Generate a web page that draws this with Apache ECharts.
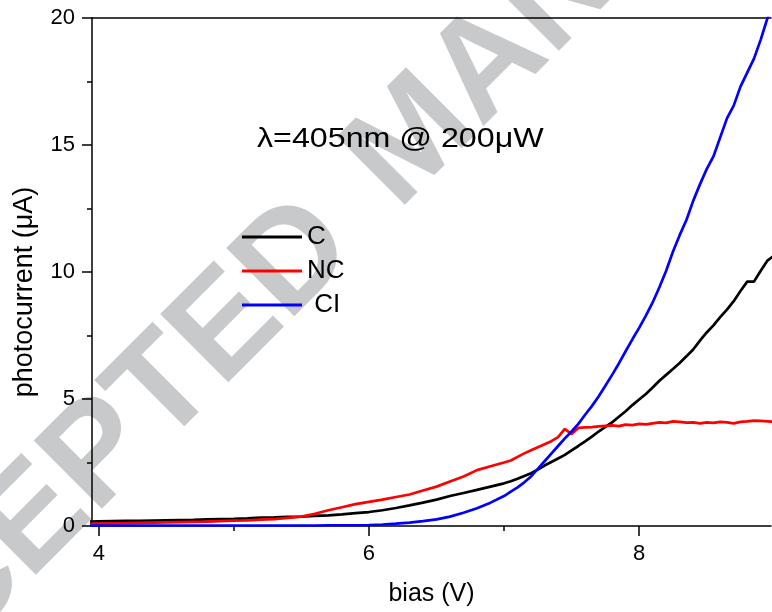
<!DOCTYPE html>
<html>
<head>
<meta charset="utf-8">
<script src="https://cdn.jsdelivr.net/npm/echarts@6/dist/echarts.min.js"></script>
<style>html,body{margin:0;padding:0;background:#fff}#c{width:772px;height:612px}</style>
</head>
<body>
<div id="c"></div>
<script>
// ---- data ----
const bias = [3.9,4.0,4.1,4.2,4.3,4.4,4.5,4.6,4.7,4.8,4.9,5.0,5.1,5.2,5.3,5.4,5.5,5.6,5.7,5.8,5.9,6.0,6.1,6.2,6.3,6.4,6.5,6.6,6.7,6.8,6.9,7.0,
  7.05,7.1,7.15,7.2,7.25,7.3,7.35,7.4,7.45,7.5,7.55,7.6,7.65,7.7,7.75,7.8,7.85,7.9,7.95,8.0,
  8.05,8.1,8.15,8.2,8.25,8.3,8.35,8.4,8.45,8.5,8.55,8.6,8.65,8.7,8.75,8.8,8.85,8.9,8.95,9.0];
const currentC = [0.17,0.18,0.19,0.20,0.20,0.21,0.22,0.23,0.24,0.26,0.27,0.28,0.30,0.33,0.34,0.36,0.37,0.40,0.42,0.46,0.51,0.55,0.62,0.71,0.81,0.92,1.04,1.18,1.30,1.42,1.55,1.68,
  1.76,1.86,1.97,2.08,2.22,2.38,2.52,2.66,2.80,2.98,3.15,3.33,3.52,3.72,3.90,4.08,4.30,4.52,4.76,4.98,
  5.20,5.45,5.72,5.95,6.18,6.42,6.68,6.95,7.30,7.62,7.90,8.22,8.52,8.85,9.25,9.62,9.62,10.05,10.45,10.65];
const currentNC = [0.08,0.09,0.10,0.11,0.12,0.13,0.14,0.15,0.16,0.17,0.19,0.21,0.22,0.25,0.27,0.32,0.37,0.48,0.62,0.74,0.86,0.95,1.04,1.14,1.24,1.40,1.55,1.75,1.95,2.20,2.35,2.50,
  2.58,2.72,2.86,2.98,3.10,3.22,3.34,3.50,3.82,3.62,3.86,3.88,3.89,3.92,3.94,3.96,3.93,3.99,3.97,4.02,
  4.00,4.04,4.08,4.06,4.12,4.10,4.07,4.08,4.04,4.08,4.06,4.10,4.08,4.04,4.10,4.12,4.15,4.14,4.12,4.10];
const currentCI = [0.02,0.02,0.02,0.02,0.02,0.02,0.02,0.02,0.02,0.02,0.02,0.02,0.02,0.02,0.02,0.02,0.02,0.02,0.03,0.03,0.03,0.04,0.06,0.09,0.13,0.19,0.26,0.37,0.52,0.70,0.92,1.18,
  1.35,1.52,1.72,1.95,2.25,2.55,2.85,3.15,3.45,3.72,4.02,4.38,4.72,5.10,5.52,5.95,6.40,6.88,7.35,7.80,
  8.28,8.80,9.40,10.05,10.80,11.45,12.05,12.80,13.45,14.05,14.55,15.30,16.05,16.55,17.30,17.85,18.40,19.15,20.00,20.70];
const seriesNames = ['C','NC','CI'];
const xMajorTicks = [4,6,8];
const xMinorTicks = [5,7];
const annotation = 'λ=405nm @ 200μW';
const xTitle = 'bias (V)';
const yTitle = 'photocurrent (μA)';
const watermarkWords = ['ACCEPTED', 'MANUSCRIPT'];

const FONT = '"Liberation Sans", Arial, sans-serif';
const pairs = (ys) => bias.map((x, i) => [x, ys[i]]);
const XMIN = 3.95, XMAX = 8.976;
const WM = {fill: '#c8c9cb', font: 'bold 140px ' + FONT, textVerticalAlign: 'middle'};

const chart = echarts.init(document.getElementById('c'), null, {renderer: 'canvas'});
chart.setOption({
  animation: false,
  backgroundColor: '#fff',
  grid: {left: 92, right: 1, top: 18, bottom: 85, containLabel: false},
  xAxis: [
    {type: 'value', min: XMIN, max: XMAX, position: 'bottom',
     name: xTitle, nameLocation: 'middle', nameGap: 56,
     nameTextStyle: {fontFamily: FONT, fontSize: 25, color: '#000'},
     axisLine: {show: true, onZero: false, lineStyle: {color: '#000', width: 1.5}},
     axisTick: {show: true, inside: false, length: 10, customValues: xMajorTicks, lineStyle: {color: '#000', width: 1.5}},
     axisLabel: {show: true, customValues: xMajorTicks, margin: 17, fontFamily: FONT, fontSize: 22, color: '#000'},
     splitLine: {show: false}},
    {type: 'value', min: XMIN, max: XMAX, position: 'bottom',
     axisLine: {show: false},
     axisTick: {show: true, inside: false, length: 5, customValues: xMinorTicks, lineStyle: {color: '#000', width: 1.5}},
     axisLabel: {show: false, customValues: xMinorTicks},
     splitLine: {show: false}},
    {type: 'value', min: XMIN, max: XMAX, position: 'top',
     axisLine: {show: true, onZero: false, lineStyle: {color: '#000', width: 1.5}},
     axisTick: {show: false}, axisLabel: {show: false}, splitLine: {show: false}}
  ],
  yAxis: {
    type: 'value', min: 0, max: 20, interval: 5,
    axisLine: {show: true, onZero: false, lineStyle: {color: '#000', width: 1.5}},
    axisTick: {show: true, inside: false, length: 10, lineStyle: {color: '#000', width: 1.5}},
    minorTick: {show: true, splitNumber: 2, length: 5, lineStyle: {color: '#000', width: 1.5}},
    axisLabel: {margin: 17, fontFamily: FONT, fontSize: 22, color: '#000'},
    splitLine: {show: false}
  },
  legend: {
    orient: 'vertical', left: 242, top: 224, icon: 'rect', itemWidth: 60, itemHeight: 3, itemGap: 8,
    padding: 0,
    formatter: (n) => n === 'CI' ? ' CI' : n,
    textStyle: {fontFamily: FONT, fontSize: 26, color: '#000'},
    data: seriesNames
  },
  graphic: [
    {type: 'text', z: -10, x: 332, y: 224, rotation: Math.PI / 4,
     style: Object.assign({text: watermarkWords[0], textAlign: 'right'}, WM)},
    {type: 'text', z: -10, x: 371, y: 184, rotation: Math.PI / 4,
     style: Object.assign({text: watermarkWords[1], textAlign: 'left'}, WM)},
    {type: 'text', x: 257, y: 139, scaleX: 1.15,
     style: {text: annotation, fill: '#000', font: '28px ' + FONT, textAlign: 'left', textVerticalAlign: 'middle'}},
    {type: 'text', x: 25, y: 292, rotation: Math.PI / 2,
     style: {text: yTitle, fill: '#000', font: '27px ' + FONT, textAlign: 'center', textVerticalAlign: 'middle'}}
  ],
  series: [
    {name: 'C', type: 'line', data: pairs(currentC), showSymbol: false, symbol: 'none', smooth: false,
     color: '#000000', lineStyle: {color: '#000000', width: 2.7}, clip: true, z: 3},
    {name: 'NC', type: 'line', data: pairs(currentNC), showSymbol: false, symbol: 'none', smooth: false,
     color: '#ff0000', lineStyle: {color: '#ff0000', width: 2.7}, clip: true, z: 3},
    {name: 'CI', type: 'line', data: pairs(currentCI), showSymbol: false, symbol: 'none', smooth: false,
     color: '#0000ff', lineStyle: {color: '#0000ff', width: 2.7}, clip: true, z: 3}
  ]
});
</script>
</body>
</html>
